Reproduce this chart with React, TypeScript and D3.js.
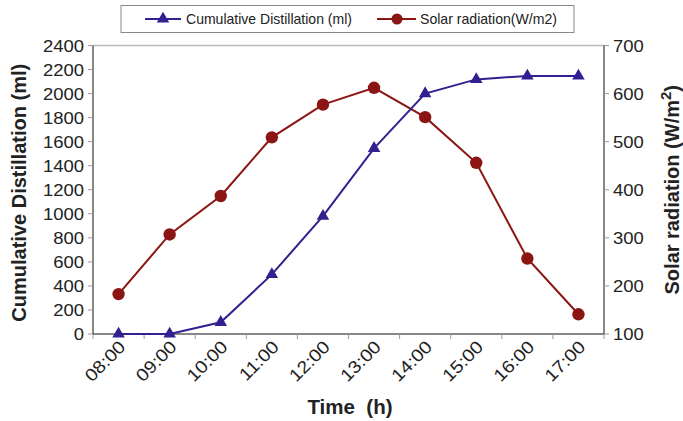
import React from "react";
import * as d3 from "d3";

const times = ["08:00", "09:00", "10:00", "11:00", "12:00", "13:00", "14:00", "15:00", "16:00", "17:00"];
const distillation = [0, 0, 97, 496, 980, 1545, 2000, 2118, 2147, 2147];
const solar = [183, 307, 387, 509, 577, 612, 551, 456, 257, 141];
const leftTicks = [0, 200, 400, 600, 800, 1000, 1200, 1400, 1600, 1800, 2000, 2200, 2400];
const rightTicks = [100, 200, 300, 400, 500, 600, 700];

const W = 683, H = 421;
const M = { left: 93, right: 604, top: 45.5, bottom: 334 };
const BLUE = "#312090";
const RED = "#8B1512";
const TXT = "#222";
const FONT = "'Liberation Sans', Arial, sans-serif";
const SX = 1.12;

export default function App() {
  const x = d3.scaleBand().domain(times).range([M.left, M.right]);
  const yL = d3.scaleLinear().domain([0, 2400]).range([M.bottom, M.top]);
  const yR = d3.scaleLinear().domain([100, 700]).range([M.bottom, M.top]);
  const cx = (t: string) => (x(t) as number) + x.bandwidth() / 2;

  const lineD = d3.line<number>().x((_, i) => cx(times[i])).y((d) => yL(d));
  const lineS = d3.line<number>().x((_, i) => cx(times[i])).y((d) => yR(d));
  const tri = d3.symbol().type(d3.symbolTriangle).size(68)();

  const boundaries = d3.range(times.length + 1).map((i) => M.left + i * x.bandwidth());

  return (
    <svg width={W} height={H} style={{ position: "absolute", left: 0, top: 0, fontFamily: FONT }}>
      <rect width={W} height={H} fill="#fff" />
      {/* legend */}
      <rect x={121} y={5.5} width={453} height={27} fill="#fff" stroke="#888" strokeWidth={1} />
      <line x1={145} x2={181} y1={19} y2={19} stroke={BLUE} strokeWidth={2} />
      <path d={tri as string} transform="translate(163,19)" fill={BLUE} />
      <text x={186} y={24} fontSize={14.5} fill={TXT} textLength={166} lengthAdjust="spacingAndGlyphs">Cumulative Distillation (ml)</text>
      <line x1={377} x2={416} y1={19} y2={19} stroke={RED} strokeWidth={2} />
      <circle cx={397} cy={19} r={5.5} fill={RED} />
      <text x={420} y={24} fontSize={14.5} fill={TXT} textLength={137} lengthAdjust="spacingAndGlyphs">Solar radiation(W/m2)</text>

      {/* plot frame */}
      <line x1={M.left} x2={M.right} y1={M.top} y2={M.top} stroke="#bbb" strokeWidth={1.5} />
      <line x1={M.left} x2={M.left} y1={M.top} y2={M.bottom} stroke="#111" />
      <line x1={M.right} x2={M.right} y1={M.top} y2={M.bottom} stroke="#111" />
      <line x1={M.left} x2={M.right} y1={M.bottom} y2={M.bottom} stroke="#111" />
      {leftTicks.map((t) => (
        <g key={"l" + t}>
          <line x1={M.left - 5} x2={M.left} y1={yL(t)} y2={yL(t)} stroke="#999" />
          <text transform={`translate(${M.left - 9},${yL(t) + 6}) scale(${SX},1)`} textAnchor="end" fontSize={16.5} fill={TXT}>{t}</text>
        </g>
      ))}
      {rightTicks.map((t) => (
        <g key={"r" + t}>
          <line x1={M.right} x2={M.right + 5} y1={yR(t)} y2={yR(t)} stroke="#999" />
          <text transform={`translate(${M.right + 9},${yR(t) + 6}) scale(${SX},1)`} textAnchor="start" fontSize={16.5} fill={TXT}>{t}</text>
        </g>
      ))}
      {boundaries.map((b, i) => (
        <line key={"b" + i} x1={b} x2={b} y1={M.bottom} y2={M.bottom + 5} stroke="#999" />
      ))}
      {times.map((t) => (
        <text key={"x" + t} transform={`translate(${cx(t) + 8},${M.bottom + 14}) rotate(-45) scale(${SX},1)`}
          textAnchor="end" fontSize={17.5} fill={TXT}>{t}</text>
      ))}

      {/* titles */}
      <text transform={`translate(26,${(M.top + M.bottom) / 2 + 3}) rotate(-90)`} textAnchor="middle"
        fontSize={20} fontWeight="bold" fill={TXT}>Cumulative Distillation (ml)</text>
      <text transform={`translate(679,${(M.top + M.bottom) / 2}) rotate(-90)`} textAnchor="middle"
        fontSize={20} fontWeight="bold" fill={TXT}>
        Solar radiation (W/m<tspan dy={-8} fontSize={15}>2</tspan><tspan dy={8}>)</tspan>
      </text>
      <text x={350} y={414} textAnchor="middle" fontSize={20.5} fontWeight="bold" fill={TXT}
        style={{ whiteSpace: "pre" }}>Time  (h)</text>

      {/* series */}
      <path d={lineS(solar) as string} fill="none" stroke={RED} strokeWidth={2} />
      {solar.map((v, i) => (
        <circle key={"s" + i} cx={cx(times[i])} cy={yR(v)} r={6.2} fill={RED} />
      ))}
      <path d={lineD(distillation) as string} fill="none" stroke={BLUE} strokeWidth={2} />
      {distillation.map((v, i) => (
        <path key={"d" + i} d={tri as string} transform={`translate(${cx(times[i])},${yL(v)})`} fill={BLUE} />
      ))}
    </svg>
  );
}
